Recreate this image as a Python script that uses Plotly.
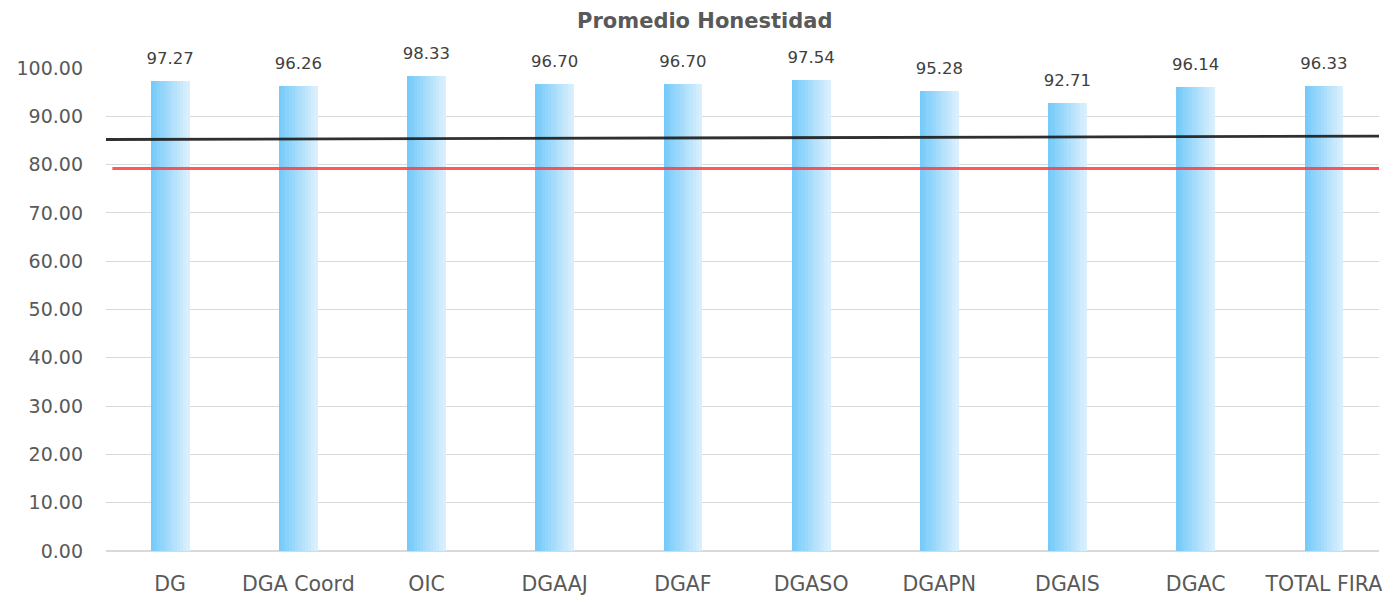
import plotly.graph_objects as go

categories = ["DG", "DGA Coord", "OIC", "DGAAJ", "DGAF", "DGASO", "DGAPN", "DGAIS", "DGAC", "TOTAL FIRA"]
values = [97.27, 96.26, 98.33, 96.70, 96.70, 97.54, 95.28, 92.71, 96.14, 96.33]
black_line = [85.2, 85.9]   # reference line, left edge -> right edge
red_line = [79.2, 79.2]     # reference line, left edge -> right edge
y_ticks = [0, 10, 20, 30, 40, 50, 60, 70, 80, 90, 100]

fig = go.Figure()

# gradient bars emulated by stripes
n = 12
bar_w = 0.30
c0 = (118, 203, 250)
c1 = (218, 239, 253)
for i in range(n):
    t = i / (n - 1)
    col = "rgb(%d,%d,%d)" % tuple(int(round(c0[k] + (c1[k] - c0[k]) * t)) for k in range(3))
    fig.add_trace(go.Bar(
        x=categories, y=values, width=bar_w / n + 0.002,
        offset=-bar_w / 2 + i * bar_w / n,
        marker=dict(color=col, line=dict(width=0)),
        showlegend=False, hoverinfo="skip"))

fig.add_trace(go.Scatter(
    x=categories, y=values, mode="markers+text",
    marker=dict(size=19, color="rgba(0,0,0,0)"),
    text=["%.2f" % v for v in values], textposition="top center",
    textfont=dict(family="DejaVu Sans", size=16.5, color="#404040"),
    cliponaxis=False, showlegend=False, hoverinfo="skip"))

fig.add_trace(go.Scatter(x=[0, 1], y=black_line, mode="lines", xaxis="x2",
                         line=dict(color="rgba(25,25,25,0.9)", width=2.8), showlegend=False))
fig.add_trace(go.Scatter(x=[0.005, 1], y=red_line, mode="lines", xaxis="x2",
                         line=dict(color="rgba(255,60,60,0.85)", width=3), showlegend=False))

fig.update_layout(
    width=1382, height=597,
    margin=dict(l=106, r=0, t=68, b=46),
    paper_bgcolor="white", plot_bgcolor="white",
    barmode="overlay", bargap=0,
    title=dict(text="<b>Promedio Honestidad</b>", x=0.51, xanchor="center", y=0.965, yanchor="middle",
               font=dict(family="DejaVu Sans", size=21, color="#595959")),
    xaxis=dict(type="category", range=[-0.5, 9.43], showgrid=False, showline=False, zeroline=False,
               ticks="", tickfont=dict(family="DejaVu Sans", size=20.5, color="#595959"),
               ticklabelstandoff=18),
    xaxis2=dict(overlaying="x", range=[0, 1], visible=False),
    yaxis=dict(range=[0, 100], tickvals=y_ticks, ticktext=["%.2f" % v for v in y_ticks],
               showgrid=True, gridcolor="#D9D9D9", gridwidth=1, zeroline=True, zerolinecolor="#D9D9D9",
               showline=False, ticks="", tickfont=dict(family="DejaVu Sans", size=19, color="#595959"),
               ticklabelstandoff=22),
)

fig.write_html("out.html", config={"displayModeBar": False},
               post_script="document.body.style.margin='0';document.body.style.overflow='hidden';")
